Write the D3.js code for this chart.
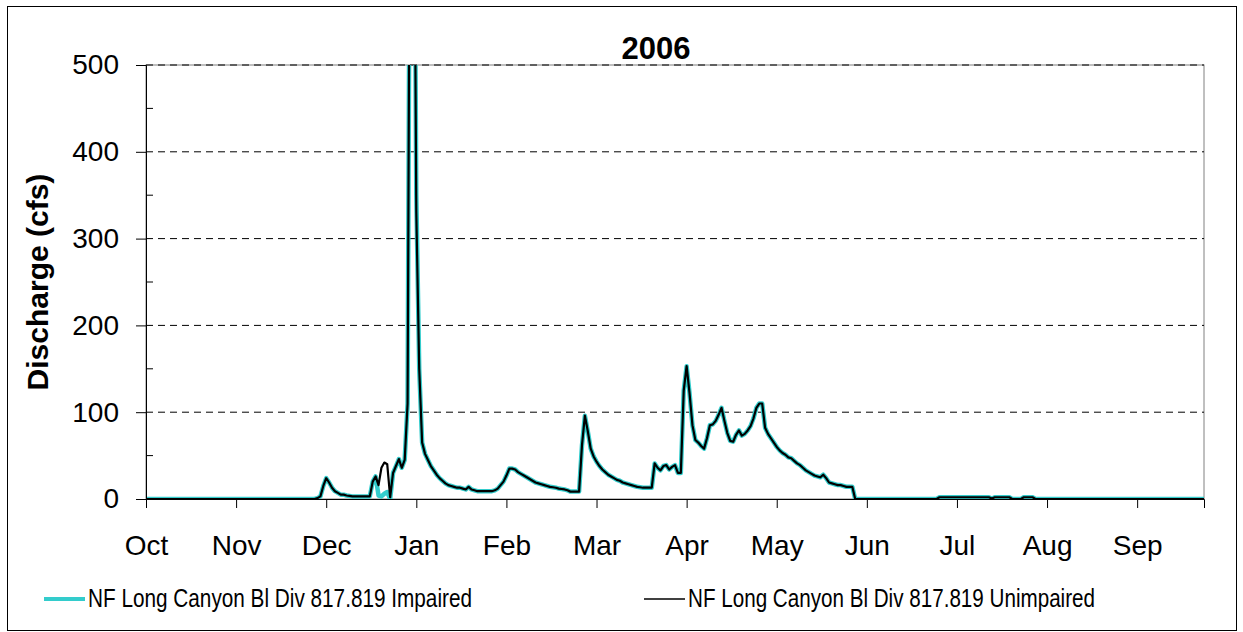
<!DOCTYPE html>
<html>
<head>
<meta charset="utf-8">
<script src="https://cdn.jsdelivr.net/npm/d3@7"></script>
<style>
  body { margin: 0; background: #fff; }
  svg { display: block; font-family: "Liberation Sans", Arial, sans-serif; }
</style>
</head>
<body>
<div id="chart"></div>
<script>
// daily discharge (cfs), water year Oct 2005 - Sep 2006, index 0 = Oct 1
const unimpaired = [
  0,0,0,0,0,0,0,0,0,0,
  0,0,0,0,0,0,0,0,0,0,
  0,0,0,0,0,0,0,0,0,0,
  0,0,0,0,0,0,0,0,0,0,
  0,0,0,0,0,0,0,0,0,0,
  0,0,0,0,0,0,0,0,0,1,
  3,15,24,19,13,9,7,5,5,4,
  3.5,3,3,3,3,3,3,3,20,26,
  16,36,42,40,2,30,38,46,36,45,
  110,900,900,330,150,65,52,45,38,33,
  28,24,21,18,16,15,14,13,13,12,
  11,14,11,10,9,9,9,9,9,9,
  10,12,16,20,27,35,35,34,31,29,
  27,25,23,21,19,18,17,16,15,14,
  13.5,13,12,11.5,11,10,8.5,8.5,8.5,8.5,
  62,96,78,58,49,43,38,34,31,28,
  26,24,22,21,19,18,17,16,15,14,
  13.5,13,13,13,13,41,36,33,38,39,
  34,37,39,30,30,125,153,122,85,68,
  65,61,58,70,85,86,90,97,105,90,
  76,67,66,74,79,73,75,79,84,93,
  105,110,110,82,75,70,65,60,56,53,
  51,48,47,44,41,39,36,33,31,29,
  27,26,25,28,24,19,18,17,16,16,
  15,14,14,14,0,0,0,0,0,0,
  0,0,0,0,0,0,0,0,0,0,
  0,0,0,0,0,0,0,0,0,0,
  0,0,0,2,2,2,2,2,2,2,
  2,2,2,2,2,2,2,2,2,2,
  2,0.5,2,2,2,2,2,2,0,0,
  0,0,2,2,2,2,0,0,0,0,
  0,0,0,0,0,0,0,0,0,0,
  0,0,0,0,0,0,0,0,0,0,
  0,0,0,0,0,0,0,0,0,0,
  0,0,0,0,0,0,0,0,0,0,
  0,0,0,0,0,0,0,0,0,0,
  0,0,0,0,0
];
const impaired = [
  0,0,0,0,0,0,0,0,0,0,
  0,0,0,0,0,0,0,0,0,0,
  0,0,0,0,0,0,0,0,0,0,
  0,0,0,0,0,0,0,0,0,0,
  0,0,0,0,0,0,0,0,0,0,
  0,0,0,0,0,0,0,0,0,1,
  3,15,24,19,13,9,7,5,5,4,
  3.5,3,3,3,3,3,3,3,20,26,
  4,3,6,8,0,30,38,46,36,45,
  110,900,900,350,150,65,52,45,38,33,
  28,24,21,18,16,15,14,13,13,12,
  11,14,11,10,9,9,9,9,9,9,
  10,12,16,20,27,35,35,34,31,29,
  27,25,23,21,19,18,17,16,15,14,
  13.5,13,12,11.5,11,10,8.5,8.5,8.5,8.5,
  62,96,78,58,49,43,38,34,31,28,
  26,24,22,21,19,18,17,16,15,14,
  13.5,13,13,13,13,41,36,33,38,39,
  34,37,39,30,30,125,153,122,85,68,
  65,61,58,70,85,86,90,97,105,90,
  76,67,66,74,79,73,75,79,84,93,
  105,110,110,82,75,70,65,60,56,53,
  51,48,47,44,41,39,36,33,31,29,
  27,26,25,28,24,19,18,17,16,16,
  15,14,14,14,0,0,0,0,0,0,
  0,0,0,0,0,0,0,0,0,0,
  0,0,0,0,0,0,0,0,0,0,
  0,0,0,2,2,2,2,2,2,2,
  2,2,2,2,2,2,2,2,2,2,
  2,0.5,2,2,2,2,2,2,0,0,
  0,0,2,2,2,2,0,0,0,0,
  0,0,0,0,0,0,0,0,0,0,
  0,0,0,0,0,0,0,0,0,0,
  0,0,0,0,0,0,0,0,0,0,
  0,0,0,0,0,0,0,0,0,0,
  0,0,0,0,0,0,0,0,0,0,
  0,0,0,0,0
];
const monthLabels = ["Oct","Nov","Dec","Jan","Feb","Mar","Apr","May","Jun","Jul","Aug","Sep"];
const yTicks = [0, 100, 200, 300, 400, 500];
const yMinor = [50, 150, 250, 350, 450];
const seriesNames = ["NF Long Canyon Bl Div 817.819 Impaired", "NF Long Canyon Bl Div 817.819 Unimpaired"];

const width = 1243, height = 632;
const margin = { top: 65, right: 39, bottom: 133, left: 146 };
const w = width - margin.left - margin.right, h = height - margin.top - margin.bottom;

const svg = d3.select("#chart").append("svg")
  .attr("width", width).attr("height", height);

// outer chart border
svg.append("rect")
  .attr("x", 7.5).attr("y", 6.5).attr("width", 1229).attr("height", 624)
  .attr("fill", "none").attr("stroke", "#000").attr("stroke-width", 1);

svg.append("text")
  .attr("x", 656).attr("y", 59)
  .attr("text-anchor", "middle")
  .style("font-size", "31px").style("font-weight", "bold")
  .text("2006");

const x = d3.scaleLinear().domain([0, 364]).range([0, w]);
const y = d3.scaleLinear().domain([0, 500]).range([h, 0]);

const g = svg.append("g").attr("transform", `translate(${margin.left},${margin.top})`);

g.append("rect").attr("width", w).attr("height", h)
  .attr("fill", "none").attr("stroke", "#808080").attr("stroke-width", 1);

g.selectAll(".grid").data(yTicks.filter(d => d > 0)).enter()
  .append("line").attr("class", "grid")
  .attr("x1", 0).attr("x2", w)
  .attr("y1", d => y(d)).attr("y2", d => y(d))
  .attr("stroke", "#000").attr("stroke-width", 1).attr("stroke-dasharray", "7,5");

svg.append("clipPath").attr("id", "clip")
  .append("rect").attr("width", w).attr("height", h);

const line = d3.line().x((d, i) => x(i)).y(d => y(d));
const plot = g.append("g").attr("clip-path", "url(#clip)");
plot.append("path").datum(impaired)
  .attr("fill", "none").attr("stroke", "#33CCCC").attr("stroke-width", 4.5)
  .attr("stroke-linejoin", "round").attr("d", line);
plot.append("path").datum(unimpaired)
  .attr("fill", "none").attr("stroke", "#000").attr("stroke-width", 2.2)
  .attr("stroke-linejoin", "round").attr("d", line);

// y axis: major ticks outside, minor inside
const yAxis = g.append("g")
  .call(d3.axisLeft(y).tickValues(yTicks).tickSize(10).tickPadding(17));
yAxis.select(".domain").attr("stroke", "#000");
yAxis.selectAll("text").style("font-size", "28px").attr("fill", "#000");
g.selectAll(".yminor").data(yMinor).enter()
  .append("line").attr("class", "yminor")
  .attr("x1", 0).attr("x2", 7)
  .attr("y1", d => y(d)).attr("y2", d => y(d))
  .attr("stroke", "#000");

// x axis: a tick every 31 days
const xAxis = g.append("g").attr("transform", `translate(0,${h})`)
  .call(d3.axisBottom(x)
    .tickValues(monthLabels.map((m, i) => i * 31))
    .tickFormat((d, i) => monthLabels[i])
    .tickSize(9).tickPadding(27));
xAxis.select(".domain").attr("stroke", "#000");
xAxis.selectAll("text").style("font-size", "28px").attr("fill", "#000");

svg.append("text")
  .attr("transform", `translate(48,${margin.top + h / 2}) rotate(-90)`)
  .attr("text-anchor", "middle")
  .style("font-size", "30px").style("font-weight", "bold")
  .text("Discharge (cfs)");

// legend
const legend = [
  { name: seriesNames[0], color: "#33CCCC", sw: 4, x0: 44, len: 384 },
  { name: seriesNames[1], color: "#000", sw: 1.5, x0: 644, len: 407 }
];
const lg = svg.selectAll(".legend").data(legend).enter().append("g").attr("class", "legend");
lg.append("line")
  .attr("x1", d => d.x0).attr("x2", d => d.x0 + 41)
  .attr("y1", 599).attr("y2", 599)
  .attr("stroke", d => d.color).attr("stroke-width", d => d.sw);
lg.append("text")
  .attr("x", d => d.x0 + 44).attr("y", 607)
  .attr("textLength", d => d.len).attr("lengthAdjust", "spacingAndGlyphs")
  .style("font-size", "25px")
  .text(d => d.name);
</script>
</body>
</html>
